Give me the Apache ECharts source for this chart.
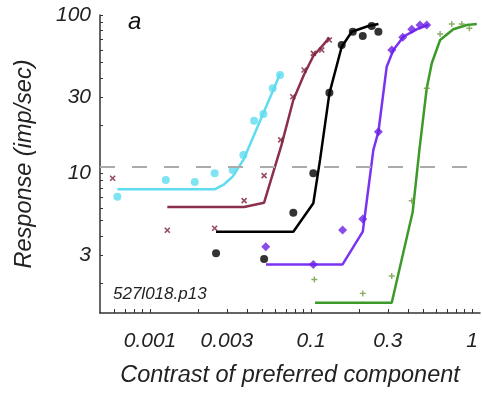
<!DOCTYPE html>
<html>
<head>
<meta charset="utf-8">
<script src="https://cdn.jsdelivr.net/npm/echarts@6/dist/echarts.min.js"></script>
<style>
html,body{margin:0;padding:0;background:#fff;}
#chart{width:482px;height:398px;}
</style>
</head>
<body>
<div id="chart"></div>
<script>
// ---- data (contrast, response) ----
const cyanPts   = [[0.00627,7.08],[0.01253,9.03],[0.01896,8.77],[0.0252,9.95],[0.0326,10.45],[0.0380,13.0],[0.0443,21.4],[0.0506,23.6],[0.0578,34.4],[0.0642,41.7]];
const cyanFit   = [[0.00627,7.89],[0.0252,7.89],[0.0285,8.4],[0.0326,9.48],[0.038,12.1],[0.0642,42.3]];
const maroonPts = [[0.00586,9.26],[0.0128,4.34],[0.0252,4.47],[0.0384,6.68],[0.0511,9.62],[0.0648,16.2],[0.0770,30.4],[0.0905,44.9],[0.1033,57.2],[0.1165,60.0],[0.130,69.5]];
const maroonFit = [[0.0128,6.09],[0.0384,6.09],[0.0511,6.49],[0.0655,15.0],[0.0776,29],[0.0905,42],[0.1033,55],[0.118,64],[0.130,72]];
const blackPts  = [[0.0257,3.10],[0.0511,2.86],[0.0776,5.61],[0.1033,9.95],[0.130,32.2],[0.155,64.6],[0.1816,78.4],[0.2095,73.6],[0.238,85.2],[0.262,78.4]];
const blackFit  = [[0.0257,4.25],[0.0776,4.25],[0.1033,6.43],[0.1137,12.1],[0.130,31.9],[0.155,63],[0.179,78.4],[0.227,85.2],[0.262,87.7]];
const purplePts = [[0.0523,3.42],[0.1033,2.64],[0.157,4.36],[0.2095,5.12],[0.262,18.25],[0.317,60.0],[0.371,72.3],[0.422,81.2],[0.475,86.5],[0.523,86.5]];
const purpleFit = [[0.0525,2.64],[0.157,2.64],[0.2095,4.25],[0.2438,14.0],[0.262,18.25],[0.295,47.1],[0.3245,60],[0.3745,72.9],[0.4534,81.2],[0.535,86.5]];
const greenPts  = [[0.1048,2.12],[0.2095,1.73],[0.317,2.23],[0.422,6.68],[0.523,34.4],[0.633,75.8],[0.748,87.7],[0.863,87.7],[0.962,82.4]];
const greenFit  = [[0.1059,1.51],[0.317,1.51],[0.428,5.69],[0.4708,14.0],[0.523,34.4],[0.562,49.5],[0.633,69.5],[0.765,81.2],[0.927,86.5],[1.07,87.7]];
const threshold = 11;

// ---- ticks ----
const xTickValues = [0.01,0.03,0.1,0.3,1];
const xTickLabels = ['0.001','0.003','0.1','0.3','1'];
const yTickValues = [3,10,30,100];
const yTickLabels = ['3','10','30','100'];
const xMinorTicks = [0.006,0.007,0.008,0.009,0.01,0.02,0.03,0.04,0.05,0.06,0.07,0.08,0.09,0.1,0.2,0.3,0.4,0.5,0.6,0.7,0.8,0.9,1];
const yMinorTicks = [2,3,4,5,6,7,8,9,10,20,30,40,50,60,70,80,90,100];

const FONT = "'Liberation Sans', Arial, sans-serif";
const chart = echarts.init(document.getElementById('chart'), null, {renderer:'canvas'});

function lineSeries(data, color){
  return {type:'line', data:data, showSymbol:false, symbol:'none', lineStyle:{color:color, width:2.5}, z:3, silent:true, animation:false};
}
function scatter(data, symbol, size, style){
  return {type:'scatter', data:data, symbol:symbol, symbolSize:size, itemStyle:style, z:4, silent:true, animation:false};
}
const xPath = 'path://M0,0L10,10M10,0L0,10';
const plusPath = 'path://M5,0L5,10M0,5L10,5';

chart.setOption({
  animation:false,
  backgroundColor:'#fff',
  grid:{left:100, right:2, top:15, bottom:85, containLabel:false},
  xAxis:{
    type:'log', logBase:10, min:0.00489, max:1.12,
    name:'Contrast of preferred component', nameLocation:'middle', nameGap:51,
    nameTextStyle:{fontFamily:FONT, fontStyle:'italic', fontSize:23.5, color:'#222'},
    axisLine:{show:true, lineStyle:{color:'#333', width:1.5}},
    axisTick:{show:true, inside:true, length:4, customValues:xMinorTicks, lineStyle:{color:'#333', width:1}},
    axisLabel:{customValues:xTickValues, margin:18, fontFamily:FONT, fontStyle:'italic', fontSize:21, color:'#222',
      formatter:function(v){ for(let i=0;i<xTickValues.length;i++){ if(Math.abs(Math.log10(v)-Math.log10(xTickValues[i]))<1e-6) return xTickLabels[i]; } return ''; }},
    splitLine:{show:false}, minorTick:{show:false}
  },
  yAxis:{
    type:'log', logBase:10, min:1.3, max:100,
    name:'Response (imp/sec)', nameLocation:'middle', nameGap:64,
    nameTextStyle:{fontFamily:FONT, fontStyle:'italic', fontSize:23.5, color:'#222'},
    axisLine:{show:true, lineStyle:{color:'#333', width:1.5}},
    axisTick:{show:true, inside:true, length:3, customValues:yMinorTicks, lineStyle:{color:'#333', width:1}},
    axisLabel:{customValues:yTickValues, margin:9, fontFamily:FONT, fontStyle:'italic', fontSize:21, color:'#222',
      formatter:function(v){ for(let i=0;i<yTickValues.length;i++){ if(Math.abs(Math.log10(v)-Math.log10(yTickValues[i]))<1e-6) return yTickLabels[i]; } return ''; }},
    splitLine:{show:false}, minorTick:{show:false}
  },
  graphic:[
    {type:'text', left:128, top:10, style:{text:'a', font:"italic 24px 'Liberation Sans', Arial, sans-serif", fill:'#111'}},
    {type:'text', left:113, top:286, style:{text:'527l018.p13', font:"italic 17px 'Liberation Sans', Arial, sans-serif", fill:'#222'}}
  ],
  series:[
    {type:'line', data:[], markLine:{silent:true, symbol:['none','none'], label:{show:false},
      lineStyle:{type:[15,17], color:'#aaa', width:2}, data:[{yAxis:threshold}]}, animation:false},
    scatter(cyanPts,'circle',8,{color:'#5fdcef'}),
    lineSeries(cyanFit,'#5fdcef'),
    scatter(maroonPts,xPath,5,{color:'transparent', borderColor:'#7a2038', borderWidth:1.6}),
    lineSeries(maroonFit,'#8c2f4c'),
    scatter(blackPts,'circle',8,{color:'#000'}),
    lineSeries(blackFit,'#000'),
    scatter(purplePts,'diamond',9,{color:'#6a1fe6'}),
    lineSeries(purpleFit,'#7b33f2'),
    scatter(greenPts,plusPath,6,{color:'transparent', borderColor:'#6a9a3a', borderWidth:1.4}),
    lineSeries(greenFit,'#3c9a28')
  ]
});
</script>
</body>
</html>
